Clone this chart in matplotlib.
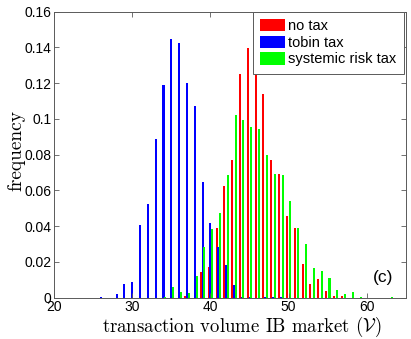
import numpy as np
import matplotlib
matplotlib.use("Agg")
import matplotlib.pyplot as plt

plt.rcParams['mathtext.fontset'] = 'cm'
plt.rcParams['font.family'] = ['Liberation Sans', 'DejaVu Sans']

# bin centres (transaction volume)
bins = [26, 27, 28, 29, 30, 31, 32, 33, 34, 35, 36, 37, 38, 39, 40, 41, 42, 43, 44,
        45, 46, 47, 48, 49, 50, 51, 52, 53, 54, 55, 56, 57, 58, 59, 60, 61, 62, 63]

no_tax = [0, 0, 0, 0, 0, 0, 0, 0, 0, 0, 0, 0.001, 0, 0.0144, 0.0172, 0.0388, 0.0623, 0.077, 0.1253,
          0.1399, 0.133, 0.114, 0.077, 0.069, 0.0459, 0.0392, 0.0187, 0.0077, 0.0104, 0.0035, 0.001, 0.001, 0, 0, 0, 0, 0, 0]

tobin_tax = [0.0006, 0, 0.002, 0.0075, 0.0088, 0.0408, 0.0526, 0.0888, 0.119, 0.1446, 0.1423, 0.120, 0.1074, 0.0647, 0.0416, 0.0284, 0.0183, 0.0071, 0.0005,
             0.0005, 0, 0.0005, 0.0005, 0.0005, 0, 0, 0, 0, 0, 0, 0, 0, 0, 0, 0, 0, 0, 0]

systemic_tax = [0, 0, 0, 0, 0, 0, 0, 0, 0.0005, 0.0062, 0.0032, 0.0024, 0.0121, 0.0284, 0.0386, 0.0476, 0.0686, 0.102, 0.0992,
                0.0953, 0.0946, 0.0798, 0.0692, 0.0686, 0.054, 0.0388, 0.030, 0.0167, 0.0149, 0.0112, 0.0044, 0.0023, 0.0034, 0.0006, 0, 0, 0, 0.0006]

labels = ['no tax', 'tobin tax', 'systemic risk tax']
colors = ['#ff0000', '#0000ff', '#00ff00']
xticks = [20, 30, 40, 50, 60]
yticks = [0, 0.02, 0.04, 0.06, 0.08, 0.10, 0.12, 0.14, 0.16]
yticklabels = ['0', '0.02', '0.04', '0.06', '0.08', '0.1', '0.12', '0.14', '0.16']

fig = plt.figure(figsize=(4.11, 3.39), dpi=100)
ax = fig.add_axes([54/411, (339-297.7)/339, 352/411, 286/339])

x = np.array(bins, dtype=float)
offsets = [-0.22, 0.0, 0.22]
handles = []
for series, off, c, lab in zip([no_tax, tobin_tax, systemic_tax], offsets, colors, labels):
    h = ax.bar(x + off, series, width=0.26, color=c, linewidth=0, label=lab)
    handles.append(h)

ax.set_xlim(20, 65)
ax.set_ylim(0, 0.16)
ax.set_xticks(xticks)
ax.set_xticklabels([str(t) for t in xticks])
ax.set_yticks(yticks)
ax.set_yticklabels(yticklabels)
ax.tick_params(direction='in', length=3.5, width=0.6, color='0.35', labelsize=10,
               top=True, right=True, pad=2)
for s in ax.spines.values():
    s.set_color('0.35')
    s.set_linewidth(0.7)

ax.set_xlabel(r'transaction volume IB market ($\mathcal{V}$)', fontfamily='cmr10', fontsize=13.5)
ax.xaxis.set_label_coords(0.534, -0.102)
ax.xaxis.label.set_va('center')
ax.set_ylabel('frequency', fontfamily='cmr10', fontsize=14)
ax.yaxis.set_label_coords(-0.108, 0.513)
ax.yaxis.label.set_va('center')

leg = ax.legend(handles=handles, labels=labels, loc='upper right', bbox_to_anchor=(0.994, 1.0),
                borderaxespad=0, fontsize=10.5, fancybox=False, framealpha=1,
                handlelength=1.75, handleheight=0.9, handletextpad=0.2,
                labelspacing=0.18, borderpad=0.5)
leg.get_frame().set_edgecolor('0.35')
leg.get_frame().set_linewidth(0.7)

ax.text(0.935, 0.069, '(c)', fontsize=12.5, ha='center', va='center', transform=ax.transAxes)

fig.savefig('out.png', dpi=100)
